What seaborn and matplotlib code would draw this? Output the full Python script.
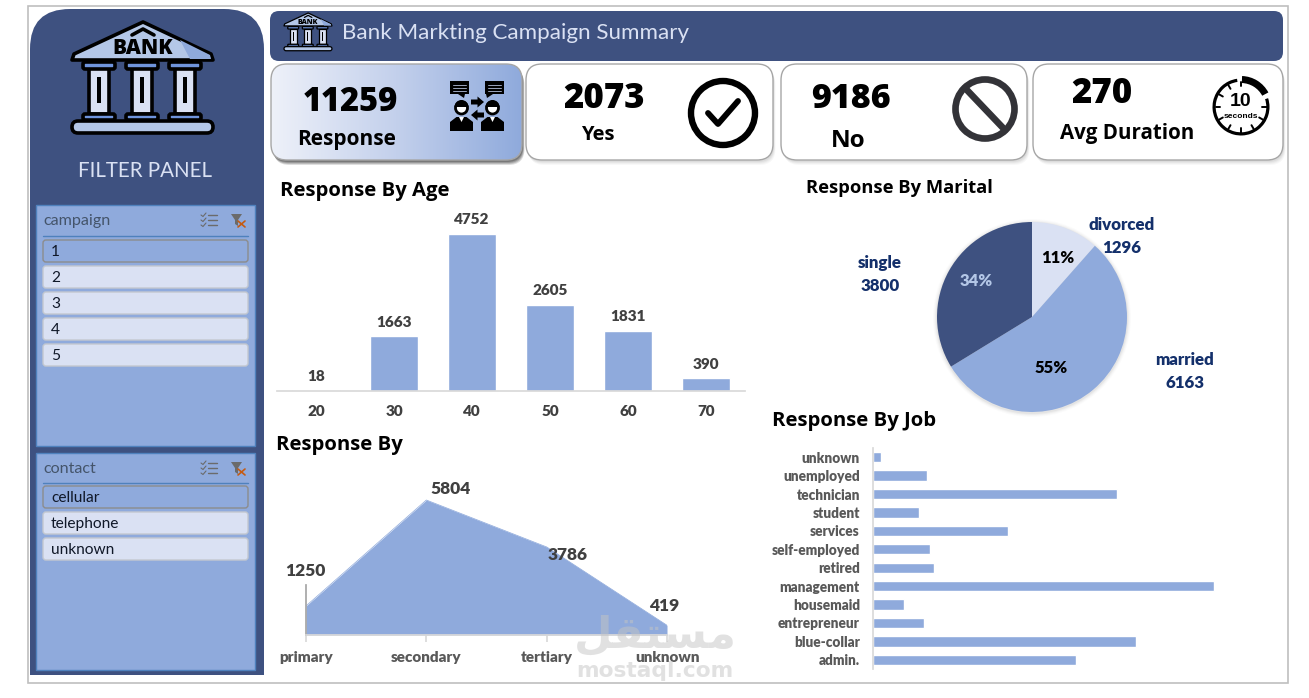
import matplotlib
matplotlib.use("Agg")
import numpy as np
import pandas as pd
import seaborn as sns
import matplotlib.pyplot as plt
from matplotlib.colors import LinearSegmentedColormap
from matplotlib.patches import Circle, FancyBboxPatch, Polygon, Rectangle, Wedge

# KPI cards
kpi_values = ["11259", "2073", "9186", "270"]
kpi_labels = ["Response", "Yes", "No", "Avg Duration"]

# Response counts by age band
age_bands = ["20", "30", "40", "50", "60", "70"]
age_counts = [18, 1663, 4752, 2605, 1831, 390]

# Response counts by education
edu_levels = ["primary", "secondary", "tertiary", "unknown"]
edu_counts = [1250, 5804, 3786, 419]

# Response counts by marital status
marital_status = ["divorced", "married", "single"]
marital_counts = [1296, 6163, 3800]

# Response counts by job, top row first
job_names = ["unknown", "unemployed", "technician", "student", "services", "self-employed",
             "retired", "management", "housemaid", "entrepreneur", "blue-collar", "admin."]
job_counts = [60, 407, 1839, 347, 1017, 430, 460, 2570, 234, 384, 1982, 1529]

# Slicer entries
campaign_items = ["1", "2", "3", "4", "5"]
contact_items = ["cellular", "telephone", "unknown"]

NAVY = "#3E5180"
BLUE = "#8FAADC"
PALE = "#DAE1F3"
GREY = "#404040"
LABEL_NAVY = "#14306B"

sns.set_theme(style="white")
plt.rcParams["font.family"] = ["Open Sans", "DejaVu Sans"]
CAL = ["Lato", "DejaVu Sans"]

W, H = 1309, 698
fig = plt.figure(figsize=(W / 100, H / 100), dpi=100, facecolor="white")


def axes_px(x0, y0, x1, y1, **kw):
    """Axes placed by canvas pixels, y measured from the top."""
    return fig.add_axes([x0 / W, 1 - y1 / H, (x1 - x0) / W, (y1 - y0) / H], **kw)


def canvas_axes(z):
    a = axes_px(0, 0, W, H)
    a.set_xlim(0, W)
    a.set_ylim(H, 0)
    a.axis("off")
    a.patch.set_alpha(0)
    a.set_zorder(z)
    return a


bg = canvas_axes(0)
top = canvas_axes(10)


def rbox(x0, y0, x1, y1, r, fc, ec="none", lw=0, z=1, alpha=None):
    p = FancyBboxPatch((x0, y0), x1 - x0, y1 - y0, boxstyle=f"round,pad=0,rounding_size={r}",
                       fc=fc, ec=ec, lw=lw, zorder=z, alpha=alpha)
    bg.add_patch(p)
    return p


def label(x, y, s, size, color="black", weight="normal", ha="center", family=None, z=8, ax=None):
    (ax or bg).text(x, y, s, fontsize=size, color=color, fontweight=weight, ha=ha, va="center",
                    family=family or plt.rcParams["font.family"], zorder=z)


# Outer frame
bg.add_patch(Rectangle((27.5, 5.5), 1260.5, 677, fc="white", ec="#BFBFBF", lw=1.2, zorder=0))

# Filter panel with rounded top corners
rbox(30, 9, 264, 140, 40, NAVY)
bg.add_patch(Rectangle((30, 60), 234, 615, fc=NAVY, ec="none", zorder=1))


def bank_icon(ox, oy, s):
    """Classical bank building, drawn in a 141 x 111 unit box."""
    def T(pts):
        return [(ox + a * s, oy + b * s) for a, b in pts]
    lw = max(0.9, 2.6 * s)
    kw = dict(ec="black", lw=lw, zorder=5, joinstyle="round")
    # roof
    bg.add_patch(Polygon(T([(71, 0), (139, 32), (141, 38), (0, 38), (2, 32)]), fc="#B4C7E7", **kw))
    bg.add_patch(Polygon(T([(108, 18), (138, 33), (139, 37), (118, 37)]), fc=BLUE, ec="none", zorder=5))
    bg.plot(*zip(*T([(60, 13), (71, 7), (82, 13)])), color="black", lw=lw, zorder=6)
    bg.text(ox + 71 * s, oy + 26.5 * s, "BANK", fontsize=15 * s, fontweight="heavy", color="black",
            ha="center", va="center", zorder=7)
    # columns
    for cx in (27, 70, 113):
        bg.add_patch(Rectangle((ox + (cx - 10) * s, oy + 46 * s), 20 * s, 46 * s, fc=PALE, **kw))
        bg.add_patch(Rectangle((ox + (cx - 2) * s, oy + 55 * s), 4 * s, 26 * s, fc="black", ec="none", zorder=6))
        rbox(ox + (cx - 16) * s, oy + 40 * s, ox + (cx + 16) * s, oy + 47 * s, 2 * s, "#6F94DC", "black", lw, 6)
        rbox(ox + (cx - 16) * s, oy + 92 * s, ox + (cx + 16) * s, oy + 98 * s, 2 * s, "#6F94DC", "black", lw, 6)
    # base
    rbox(ox, oy + 99 * s, ox + 141 * s, oy + 111 * s, 6 * s, "#B4C7E7", "black", lw, 5)


bank_icon(72, 22, 1.0)
label(145, 171, "FILTER PANEL", 14.8, PALE, family=CAL)


def slicer_icons(cx, cy):
    for dy in (-5, 0, 5):
        bg.plot([cx - 1, cx + 8], [cy + dy, cy + dy], color="#6B6B6B", lw=1, zorder=4)
        bg.plot([cx - 8, cx - 6, cx - 3], [cy + dy, cy + dy + 1.5, cy + dy - 2], color="#6B6B6B", lw=0.8, zorder=4)
    fx = cx + 28
    bg.add_patch(Polygon([(fx - 6, cy - 6), (fx + 5, cy - 6), (fx + 1, cy), (fx + 1, cy + 6), (fx - 2, cy + 4), (fx - 2, cy)],
                         fc="#6B6B6B", ec="none", zorder=4))
    bg.plot([fx + 1, fx + 8], [cy + 1, cy + 7], color="#C55A11", lw=1.2, zorder=5)
    bg.plot([fx + 1, fx + 8], [cy + 7, cy + 1], color="#C55A11", lw=1.2, zorder=5)


def slicer(title, items, y0, y1, first_y, line_y):
    bg.add_patch(Rectangle((36, y0), 219, y1 - y0, fc=BLUE, ec="#4F81BD", lw=1, zorder=2))
    label(43, y0 + 16, title, 11.6, "#44546A", ha="left", family=CAL)
    bg.plot([43, 248], [line_y, line_y], color="#4F81BD", lw=1, zorder=3)
    slicer_icons(209, y0 + 15)
    for i, it in enumerate(items):
        y_top = first_y + i * 26
        selected = i == 0
        rbox(43, y_top, 248, y_top + 22, 3, BLUE if selected else PALE,
             "#8C8C8C" if selected else "#C4C8D0", 1, 3)
        label(51, y_top + 12, it, 11.2, "#101828", ha="left", family=CAL)


slicer("campaign", campaign_items, 205, 446, 240, 236)
slicer("contact", contact_items, 453, 670, 486, 483)

# Title banner
rbox(270, 11, 1283, 61, 9, NAVY)
bank_icon(284, 13, 0.34)
label(342, 33, "Bank Markting Campaign Summary", 16.1, PALE, ha="left", family=CAL)

# KPI cards: the first carries a gradient and a stronger shadow
cards = [(271, 522), (526, 773), (781, 1027), (1033, 1283)]
for i, (x0, x1) in enumerate(cards):
    k = 2.6 if i == 0 else 0.55
    for off, a in ((5, .05), (4, .06), (3, .07), (2, .08)):
        rbox(x0 + off / 2, 64 + off, x1 + off / 2, 160 + off, 16, "black", z=2, alpha=a * k)

grad = LinearSegmentedColormap.from_list("card", ["#EEF1F9", "#C3D0EC", BLUE])
for i, (x0, x1) in enumerate(cards):
    if i == 0:
        clip = rbox(x0, 64, x1, 160, 16, "none", "#A6A6A6", 1, 4)
        img = bg.imshow(np.linspace(0, 1, 256)[None, :], extent=(x0, x1, 160, 64), cmap=grad,
                        aspect="auto", zorder=3)
        img.set_clip_path(clip)
        bg.set_xlim(0, W)
        bg.set_ylim(H, 0)
    else:
        rbox(x0, 64, x1, 160, 16, "white", "#A6A6A6", 1, 3)

label(350, 102, kpi_values[0], 23.5, weight="heavy", family=["Open Sans"])
label(347, 140, kpi_labels[0], 15, weight="bold")
label(604, 99, kpi_values[1], 25, weight="heavy", family=["Open Sans"])
label(598, 135, kpi_labels[1], 14.5, weight="bold")
label(851, 99, kpi_values[2], 24.5, weight="heavy", family=["Open Sans"])
label(848, 141, kpi_labels[2], 17.5, weight="bold")
label(1102, 94, kpi_values[3], 25, weight="heavy", family=["Open Sans"])
label(1127, 133, kpi_labels[3], 14.8, weight="bold")


def person(cx):
    bg.add_patch(Circle((cx, 108), 6, fc="white", ec="black", lw=2, zorder=6))
    bg.add_patch(Wedge((cx, 107), 7, 180, 360, fc="black", ec="none", zorder=7))
    bg.add_patch(Polygon([(cx - 11.5, 131), (cx - 11.5, 122), (cx - 5, 117), (cx + 5, 117),
                          (cx + 11.5, 122), (cx + 11.5, 131)], fc="black", ec="none", zorder=6))
    bg.add_patch(Polygon([(cx - 2.5, 117), (cx + 2.5, 117), (cx, 122)], fc="white", ec="none", zorder=7))


def bubble(x0, tail):
    bg.add_patch(Rectangle((x0, 81), 19, 13, fc="black", ec="none", zorder=6))
    bg.add_patch(Polygon([(tail - 3, 94), (tail + 4, 94), (tail - 2 if tail < x0 + 9 else tail + 3, 98)],
                         fc="black", ec="none", zorder=6))
    for dy in (3.5, 6.5, 9.5):
        bg.plot([x0 + 3, x0 + 16], [81 + dy, 81 + dy], color="#9AA5BD", lw=0.7, zorder=7)


def block_arrow(x0, x1, y):
    mid = x0 + (x1 - x0) * 0.5
    bg.add_patch(Polygon([(x0, y - 2.5), (mid, y - 2.5), (mid, y - 5.5), (x1, y), (mid, y + 5.5), (mid, y + 2.5), (x0, y + 2.5)],
                         fc="black", ec="none", zorder=6))


# Conversation icon
bubble(450, 461)
bubble(485, 489)
person(461.5)
person(492.5)
block_arrow(471, 484, 102)
block_arrow(484, 471, 115)

# Check-mark icon
bg.add_patch(Circle((723, 113), 32, fc="none", ec="black", lw=4.6, zorder=6))
bg.plot([708, 718, 738], [113, 124, 101], color="black", lw=4.2, solid_capstyle="round", solid_joinstyle="round", zorder=6)

# Prohibition icon
bg.add_patch(Circle((985, 109), 29.5, fc="none", ec="#333338", lw=4.8, zorder=6))
bg.plot([965, 1005], [88, 130], color="#333338", lw=4.8, zorder=6)

# Timer icon, its ring open where the thick arc sits
bg.add_patch(Wedge((1241, 107), 28.5, -18, 262, width=3.2, fc="black", ec="none", zorder=6))
bg.add_patch(Wedge((1241, 107), 31, -88, -28, width=7, fc="black", ec="none", zorder=6))
for a in np.deg2rad(np.arange(0, 360, 30)):
    if -90 < np.rad2deg(a) - 360 < -20:
        continue
    bg.plot([1241 + 21 * np.cos(a), 1241 + 25.5 * np.cos(a)], [107 + 21 * np.sin(a), 107 + 25.5 * np.sin(a)],
            color="black", lw=1.4, zorder=6)
label(1241, 102, "10", 14, weight="bold", family=["Liberation Sans", "Open Sans"])
label(1241, 117, "seconds", 6, weight="bold", family=["Liberation Sans", "Open Sans"])

# Section titles
label(280, 191, "Response By Age", 14.6, weight="bold", ha="left")
label(806, 188, "Response By Marital", 13.2, weight="bold", ha="left")
label(772, 421, "Response By Job", 14.6, weight="bold", ha="left")
label(276, 445, "Response By", 14.6, weight="bold", ha="left")

# Age column chart
ax_age = axes_px(277, 215, 745, 391)
ax_age.patch.set_alpha(0)
age_df = pd.DataFrame({"age": age_bands, "count": age_counts})
sns.barplot(data=age_df, x="age", y="count", color=BLUE, saturation=1, width=0.61, ax=ax_age)
ax_age.set_ylim(0, 5327)
ax_age.set(xlabel="", ylabel="")
ax_age.set_yticks([])
sns.despine(ax=ax_age, left=True)
ax_age.spines["bottom"].set_color("#D9D9D9")
ax_age.tick_params(axis="x", length=0, pad=10)
for t in ax_age.get_xticklabels():
    t.set(fontsize=11, fontweight="heavy", color=GREY, family=CAL)
for i, v in enumerate(age_counts):
    ax_age.annotate(str(v), (i, v), xytext=(0, 14), textcoords="offset pixels", ha="center", va="center",
                    fontsize=11, fontweight="heavy", color=GREY, family=CAL, annotation_clip=False)

# Education area chart
ax_edu = axes_px(306, 480, 667, 635)
ax_edu.patch.set_alpha(0)
edu_x = np.arange(len(edu_levels))
sns.lineplot(x=edu_x, y=edu_counts, color=BLUE, lw=0.5, ax=ax_edu)
ax_edu.fill_between(edu_x, edu_counts, 0, color=BLUE, lw=0, zorder=2)
ax_edu.set_xlim(0, 3)
ax_edu.set_ylim(0, 5804 * 155 / 135)
ax_edu.set_xticks(edu_x, edu_levels)
ax_edu.set_yticks([])
ax_edu.set(xlabel="", ylabel="")
sns.despine(ax=ax_edu)
ax_edu.spines["bottom"].set_color("#D9D9D9")
ax_edu.spines["left"].set_color("#A6A6A6")
ax_edu.spines["left"].set_bounds(0, 2150)
ax_edu.tick_params(axis="x", length=5, color="#D9D9D9", pad=6.5, bottom=True)
for t in ax_edu.get_xticklabels():
    t.set(fontsize=11, fontweight="heavy", color="#595959", family=CAL, clip_on=False)
edu_offsets = [(-1, 35), (24, 11), (21, -8), (-3, 19)]
for x, v, off in zip(edu_x, edu_counts, edu_offsets):
    ax_edu.annotate(str(v), (x, v), xytext=off, textcoords="offset pixels", ha="center", va="center",
                    fontsize=12.5, fontweight="heavy", color=GREY, family=CAL, annotation_clip=False, zorder=5)

# Marital pie, with a soft shadow below it
for dr, a in ((4, .015), (3, .02), (2, .03), (1, .04)):
    bg.add_patch(Circle((1032, 318), 95 + dr, fc="black", ec="none", alpha=a, zorder=2))
ax_pie = axes_px(937, 222, 1127, 412)
ax_pie.pie(marital_counts, colors=[PALE, BLUE, NAVY], startangle=90, counterclock=False, radius=1,
           wedgeprops=dict(linewidth=0))
ax_pie.set_xlim(-1, 1)
ax_pie.set_ylim(-1, 1)
label(1058, 258, "11%", 12, "black", "heavy", family=CAL, ax=top)
label(1051, 368, "55%", 12, "black", "heavy", family=CAL, ax=top)
label(976, 281, "34%", 12, "#B4C7E7", "heavy", family=CAL, ax=top)
marital_pos = [(1122, 225), (1185, 360), (880, 263)]
for name, v, (x, y) in zip(marital_status, marital_counts, marital_pos):
    label(x, y, name, 12.2, LABEL_NAVY, "heavy", family=CAL, ax=top)
    label(x, y + 23, str(v), 12.2, LABEL_NAVY, "heavy", family=CAL, ax=top)

# Job bar chart
ax_job = axes_px(873, 448, 1240, 669)
ax_job.patch.set_alpha(0)
job_df = pd.DataFrame({"job": job_names, "count": job_counts})
sns.barplot(data=job_df, y="job", x="count", color=BLUE, saturation=1, width=0.56, ax=ax_job)
ax_job.set_xlim(0, 367 * 7.536)
ax_job.set(xlabel="", ylabel="")
ax_job.set_xticks([])
sns.despine(ax=ax_job, bottom=True)
ax_job.spines["left"].set_color("#D9D9D9")
ax_job.tick_params(axis="y", length=0, pad=9.4)
for t in ax_job.get_yticklabels():
    t.set(fontsize=9.8, fontweight="heavy", color="#595959", family=CAL)

# Marketplace watermark across the lower middle
top.text(655, 635, "\ufede\ufed8\ufe98\ufeb4\ufee3", fontsize=32, fontweight="bold", family="DejaVu Sans",
         color="#C4C4C4", alpha=0.5, ha="center", va="center")
top.text(655, 671, "mostaql.com", fontsize=15.7, fontweight="bold", family="DejaVu Sans",
         color="#C4C4C4", alpha=0.5, ha="center", va="center")

fig.savefig("out.png", dpi=100, facecolor="white")
